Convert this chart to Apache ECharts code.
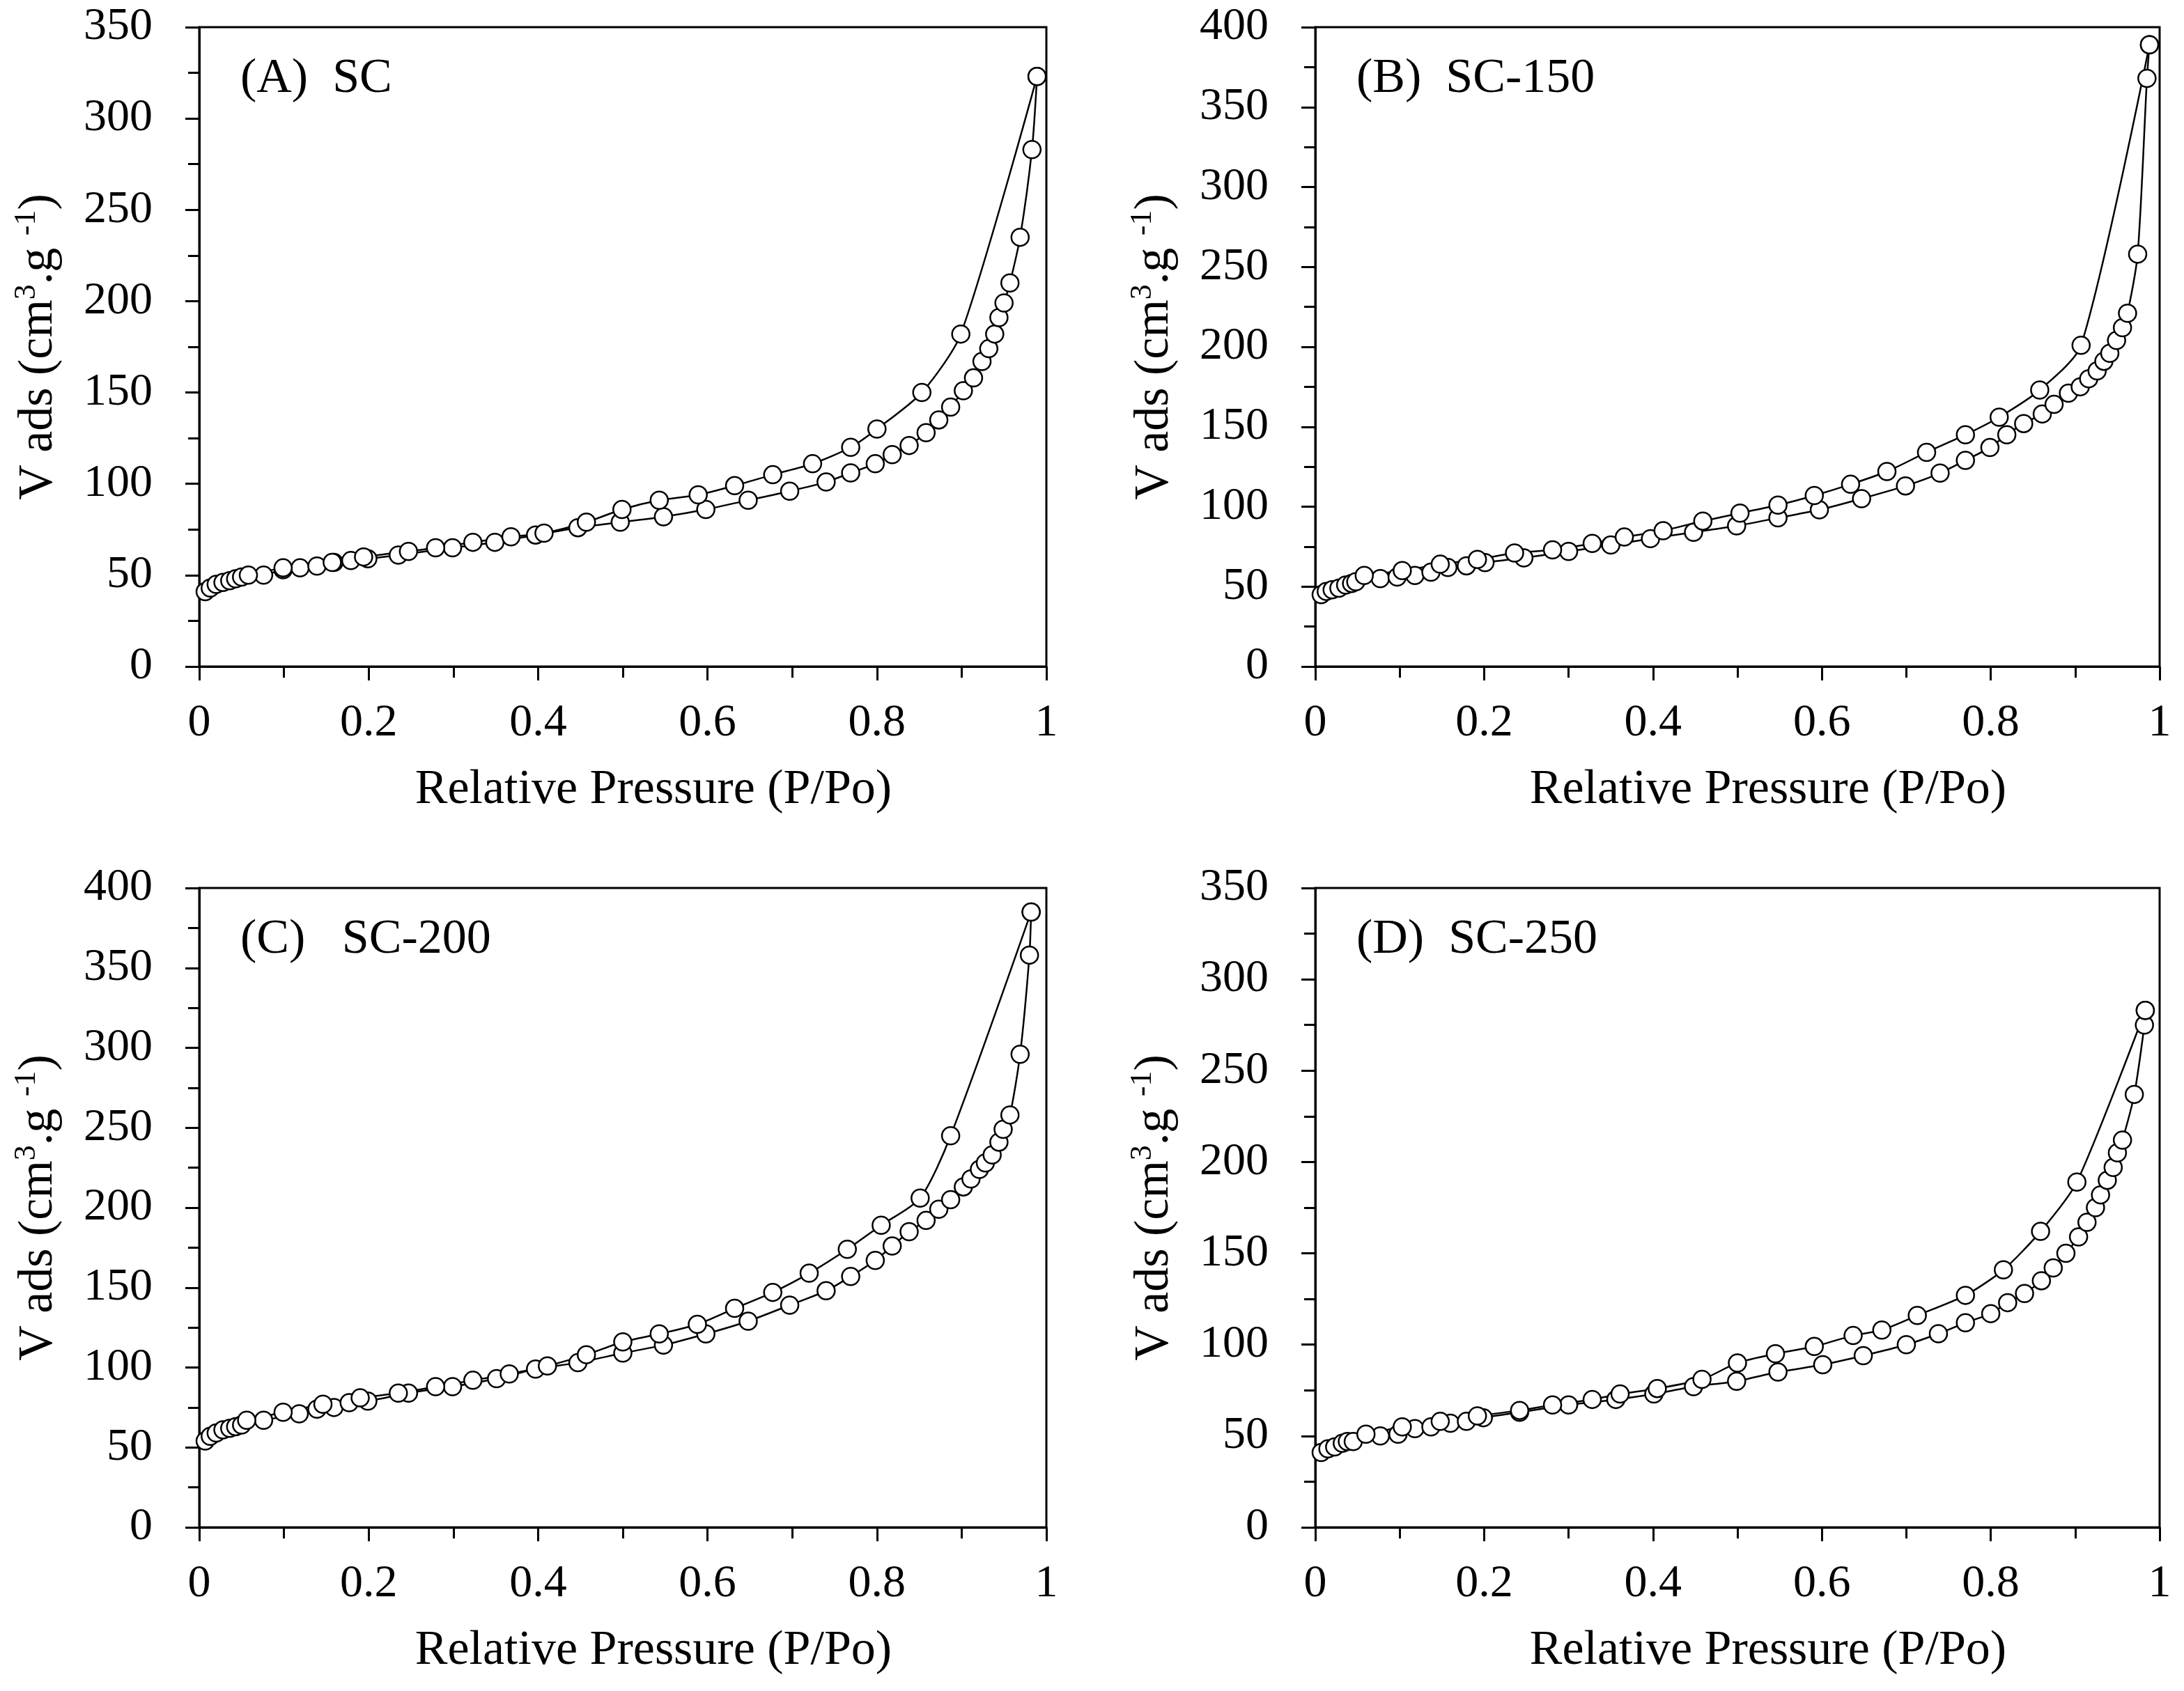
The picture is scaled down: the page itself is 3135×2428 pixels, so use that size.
<!DOCTYPE html>
<html><head><meta charset="utf-8">
<script src="https://cdn.jsdelivr.net/npm/echarts@6/dist/echarts.min.js"></script>
<style>html,body{margin:0;padding:0;background:#fff}#c{width:3135px;height:2428px}</style>
</head><body><div id="c"></div><script>
// Panel A: SC
const aAdsX = [0.007,0.013,0.020,0.028,0.036,0.043,0.050,0.076,0.099,0.119,0.139,0.159,0.179,0.199,0.235,0.299,0.349,0.397,0.447,0.497,0.548,0.598,0.648,0.697,0.740,0.769,0.798,0.818,0.838,0.858,0.873,0.887,0.902,0.914,0.924,0.932,0.939,0.944,0.950,0.957,0.969,0.983,0.989];
const aAdsY = [41,43,45,46,47,48,49,50,53,54,55,57,58,59,61,65,68,72,76,79,82,86,91,96,101,106,111,116,121,128,135,142,151,158,167,174,182,191,199,210,235,283,323];
const aDesX = [0.989,0.899,0.853,0.800,0.769,0.724,0.677,0.632,0.589,0.543,0.499,0.457,0.407,0.368,0.323,0.279,0.247,0.194,0.157,0.099,0.058];
const aDesY = [323,182,150,130,120,111,105,99,94,91,86,79,73,71,68,65,63,60,57,54,50];
// Panel B: SC-150
const bAdsX = [0.007,0.013,0.020,0.028,0.036,0.043,0.048,0.077,0.097,0.118,0.137,0.157,0.179,0.201,0.247,0.300,0.350,0.397,0.448,0.499,0.548,0.597,0.647,0.699,0.740,0.770,0.799,0.819,0.839,0.861,0.875,0.892,0.906,0.916,0.926,0.934,0.941,0.949,0.956,0.962,0.974,0.985,0.988];
const bAdsY = [45,47,48,49,51,52,53,55,56,57,59,62,63,65,68,72,76,80,84,88,93,98,105,113,121,129,137,145,152,158,164,171,175,180,185,191,196,204,212,221,258,368,389];
const bDesX = [0.988,0.907,0.858,0.810,0.770,0.724,0.677,0.634,0.591,0.548,0.503,0.459,0.412,0.366,0.328,0.281,0.236,0.192,0.148,0.103,0.058];
const bDesY = [389,201,173,156,145,134,122,114,107,101,96,91,85,81,77,73,71,67,64,60,57];
// Panel C: SC-200
const cAdsX = [0.007,0.013,0.020,0.028,0.036,0.043,0.050,0.076,0.118,0.139,0.159,0.177,0.199,0.247,0.299,0.351,0.397,0.447,0.500,0.548,0.598,0.648,0.697,0.740,0.769,0.798,0.818,0.838,0.858,0.873,0.887,0.902,0.911,0.921,0.928,0.936,0.944,0.949,0.957,0.969,0.980,0.982];
const cAdsY = [54,57,59,61,62,63,64,67,71,74,75,78,79,84,88,93,99,103,109,114,121,129,139,148,157,167,176,185,192,199,205,213,218,224,228,233,241,249,258,296,358,385];
const cDesX = [0.982,0.887,0.851,0.805,0.765,0.720,0.677,0.632,0.588,0.543,0.500,0.457,0.411,0.366,0.323,0.279,0.235,0.190,0.146,0.099,0.056];
const cDesY = [385,245,206,189,174,159,147,137,127,121,116,108,101,96,92,88,84,81,77,72,67];
// Panel D: SC-250
const dAdsX = [0.007,0.015,0.023,0.032,0.038,0.045,0.077,0.098,0.118,0.137,0.160,0.179,0.199,0.242,0.300,0.356,0.401,0.448,0.499,0.548,0.601,0.649,0.700,0.738,0.770,0.800,0.820,0.840,0.860,0.874,0.889,0.904,0.914,0.924,0.930,0.938,0.945,0.950,0.956,0.970,0.982,0.983];
const dAdsY = [41,43,44,46,47,47,50,51,54,55,57,58,60,63,67,70,73,77,80,85,89,94,100,106,112,117,123,128,135,142,150,159,167,175,182,190,197,205,212,237,275,283];
const dDesX = [0.983,0.902,0.859,0.815,0.770,0.713,0.671,0.637,0.591,0.545,0.500,0.458,0.405,0.361,0.328,0.281,0.242,0.192,0.148,0.103,0.060];
const dDesY = [283,189,162,141,127,116,108,105,99,95,90,81,76,73,70,67,64,61,58,55,51];

const panelLabels = ['(A)  SC', '(B)  SC-150', '(C)   SC-200', '(D)  SC-250'];
const yMaxes = [350, 400, 400, 350];
const xTitle = 'Relative Pressure (P/Po)';

const FONT = 'Liberation Serif';
const chart = echarts.init(document.getElementById('c'), null, {renderer: 'canvas'});
const grids = [
  {left: 286, top: 39, width: 1216, height: 918},
  {left: 1888, top: 39, width: 1212, height: 918},
  {left: 286, top: 1275, width: 1216, height: 918},
  {left: 1888, top: 1275, width: 1212, height: 918}
];
const data = [[aAdsX,aAdsY,aDesX,aDesY],[bAdsX,bAdsY,bDesX,bDesY],[cAdsX,cAdsY,cDesX,cDesY],[dAdsX,dAdsY,dDesX,dDesY]];
const pair = (xs, ys) => xs.map((x, i) => [x, ys[i]]);
const axisLine = {show: true, lineStyle: {color: '#000', width: 3}};
const option = {
  backgroundColor: '#fff',
  animation: false,
  grid: grids.map(g => Object.assign({show: true, borderColor: '#000', borderWidth: 3, backgroundColor: 'transparent'}, g)),
  xAxis: grids.map((g, i) => ({
    type: 'value', gridIndex: i, min: 0, max: 1, interval: 0.2,
    axisLine: axisLine,
    axisTick: {show: true, inside: false, length: 20, lineStyle: {color: '#000', width: 3}},
    minorTick: {show: true, splitNumber: 2, length: 16, lineStyle: {color: '#000', width: 3}},
    splitLine: {show: false},
    axisLabel: {color: '#000', fontFamily: FONT, fontSize: 66, margin: 49},
    name: xTitle, nameLocation: 'middle', nameGap: 143,
    nameTextStyle: {color: '#000', fontFamily: FONT, fontSize: 70, padding: [0, 0, 0, 88]}
  })),
  yAxis: grids.map((g, i) => ({
    type: 'value', gridIndex: i, min: 0, max: yMaxes[i], interval: 50,
    axisLine: axisLine,
    axisTick: {show: true, inside: false, length: 20, lineStyle: {color: '#000', width: 3}},
    minorTick: {show: true, splitNumber: 2, length: 16, lineStyle: {color: '#000', width: 3}},
    splitLine: {show: false},
    axisLabel: {color: '#000', fontFamily: FONT, fontSize: 66, margin: 67},
    name: '{n|V ads (cm}{s|3}{n|.g }{s|-1}{n|)}', nameLocation: 'middle', nameGap: 190,
    nameTextStyle: {color: '#000', fontFamily: FONT, fontSize: 70,
      rich: {n: {fontFamily: FONT, fontSize: 70, color: '#000', lineHeight: 80},
             s: {fontFamily: FONT, fontSize: 44, color: '#000', verticalAlign: 'top', lineHeight: 44}}}
  })),
  title: grids.map((g, i) => ({
    text: panelLabels[i], left: g.left + 54, top: g.top + 35,
    textStyle: {color: '#000', fontFamily: FONT, fontSize: 70, fontWeight: 'normal'}
  })),
  series: []
};
data.forEach((d, i) => {
  [[d[0], d[1]], [d[2], d[3]]].forEach(([xs, ys]) => {
    option.series.push({
      type: 'line', xAxisIndex: i, yAxisIndex: i, data: pair(xs, ys),
      smooth: 0.25, symbol: 'circle', symbolSize: 25,
      lineStyle: {color: '#000', width: 2.5},
      itemStyle: {color: '#fff', borderColor: '#000', borderWidth: 2.5}
    });
  });
});
chart.setOption(option);
</script></body></html>
